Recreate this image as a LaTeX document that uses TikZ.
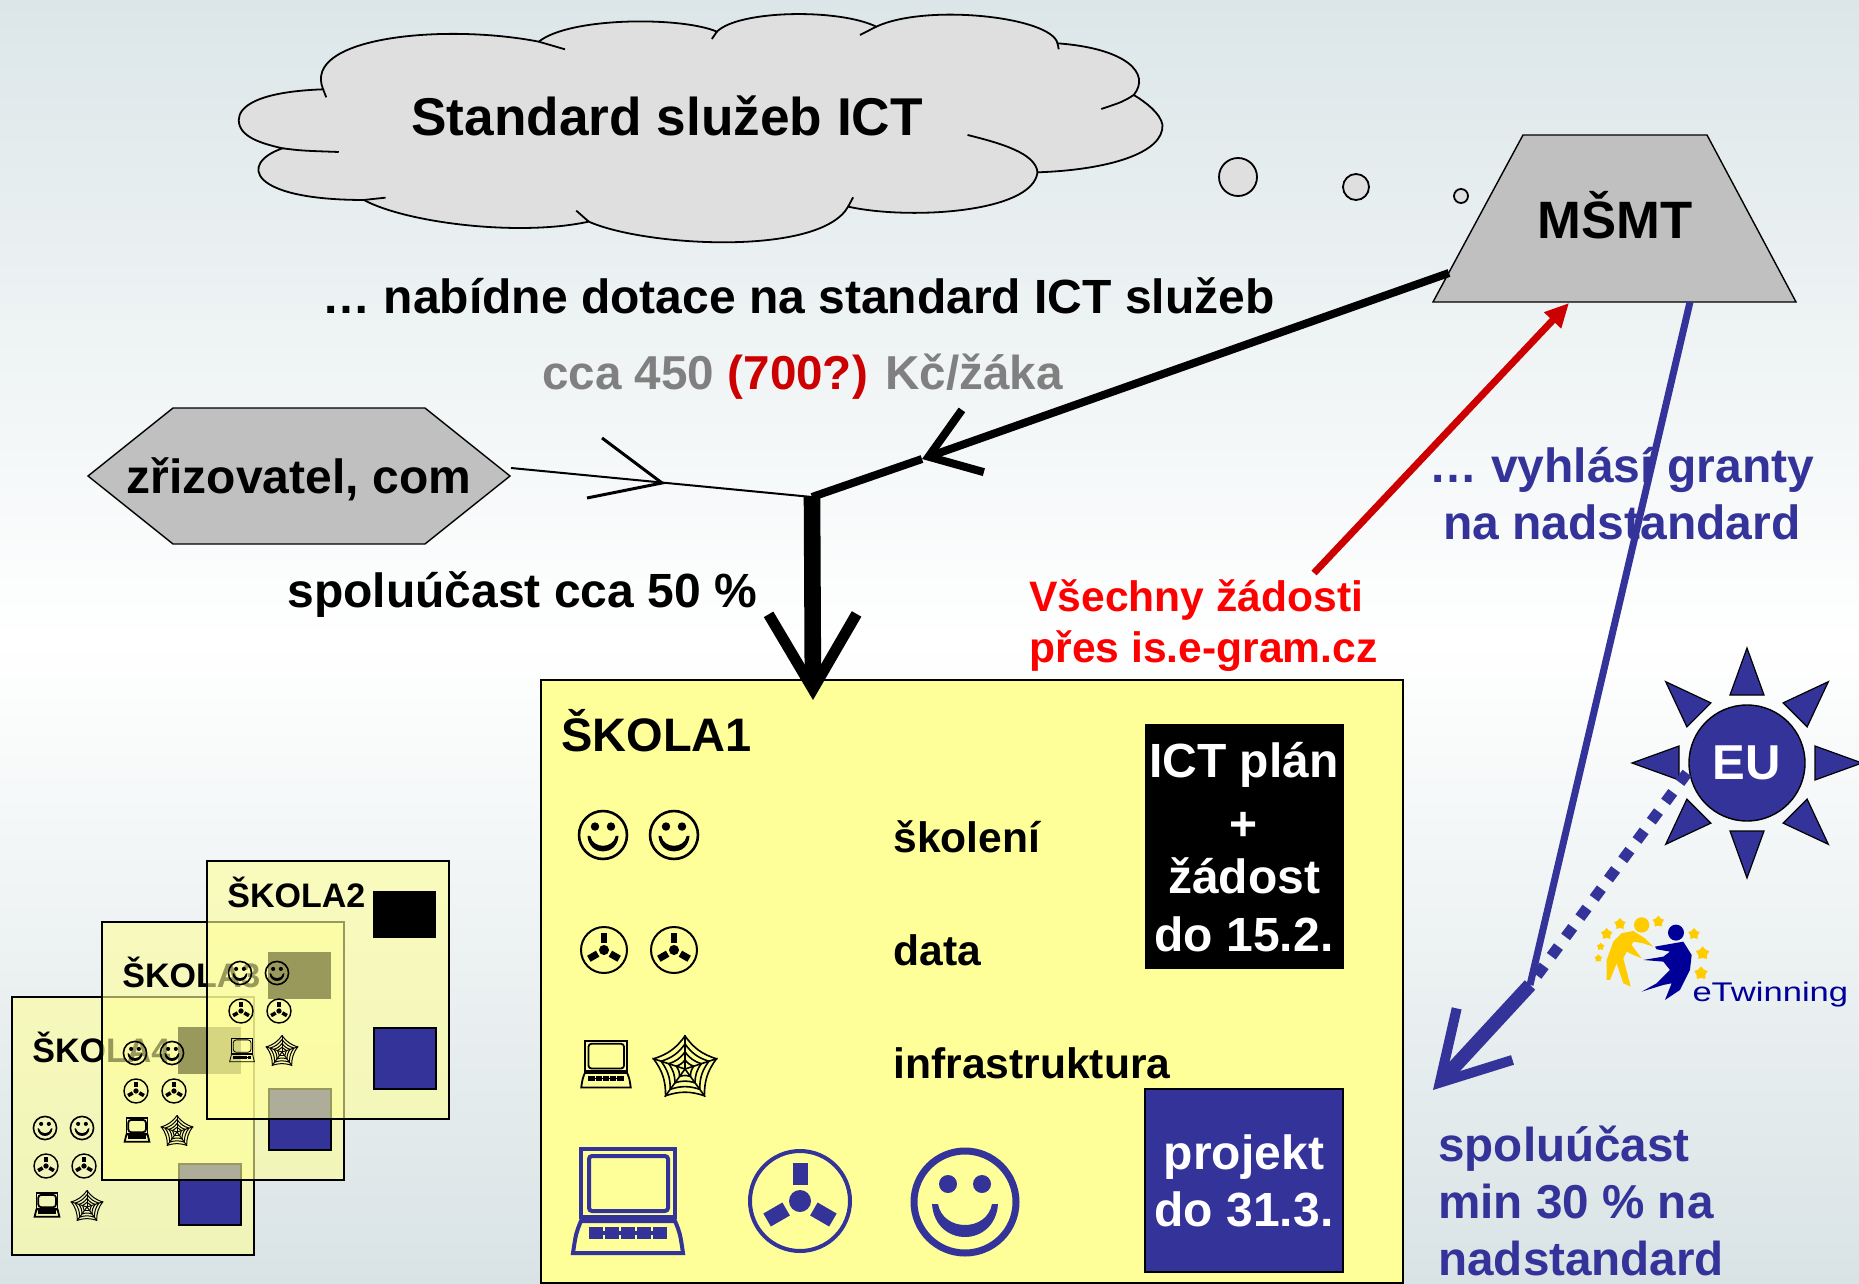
\documentclass[tikz,border=0pt]{standalone}
\usepackage{fontspec}
\setmainfont{Liberation Sans}
\usepackage{tikz}
\usetikzlibrary{positioning,calc,shapes.geometric,shapes.symbols,arrows.meta}

\definecolor{slideblue}{HTML}{333399}
\definecolor{slideyellow}{HTML}{FFFF99}
\definecolor{slidegray}{HTML}{C0C0C0}
\definecolor{cloudgray}{HTML}{DFDFDF}
\definecolor{darkred}{HTML}{CC0000}
\definecolor{twinblue}{HTML}{000099}
\definecolor{twinyellow}{HTML}{FFCC00}
\definecolor{bgtop}{HTML}{DCE6E8}
\definecolor{bgbottom}{HTML}{D9E3E5}

\tikzset{
    lbl/.style={anchor=base west,inner sep=0pt,font=\fontsize{24}{28}\selectfont\bfseries},
    lblsmall/.style={lbl,font=\fontsize{21.3}{25}\selectfont\bfseries},
    cardlbl/.style={lbl,font=\fontsize{17}{20}\selectfont\bfseries},
    whitebox/.style={draw=black,text=white,align=center,inner sep=0pt,minimum width=99pt,
        font=\fontsize{24}{29}\selectfont\bfseries},
    bubble/.style={draw=black,fill=cloudgray,line width=.9pt},
    sunray/.style={draw=black,fill=slideblue,line width=.6pt},
    blackarrow/.style={line width=4pt,-{Straight Barb[length=23.5pt,width=33pt,line width=4pt]}},
    mainarrow/.style={line width=8.3pt,-{Straight Barb[length=37.5pt,width=44pt,line width=5.5pt]}},
    bluearrow/.style={draw=slideblue,line width=7pt,-{Straight Barb[length=33pt,width=38pt,line width=5pt]}},
    smileyicon/.pic={
        \draw (0,0) circle (51);
        \fill (-17,-18) circle (9);
        \fill (17,-18) circle (9);
        \fill (-33,2) .. controls (-30,46) and (30,46) .. (33,2) -- (27,2)
            .. controls (22,30) and (-22,30) .. (-27,2) -- cycle;
    },
    radioicon/.pic={
        \draw (0,0) circle (50);
        \fill (0,0) circle (11);
        \foreach \a in {0,120,240}
            \fill[rotate=\a] (-7.5,-38) rectangle (7.5,-16);
    },
    compicon/.pic={
        \draw (-47,-52) rectangle (47,16);
        \draw[rounded corners=1.5pt] (-39,-45) rectangle (40,10);
        \draw (-47,20) -- (47,20) .. controls (52,32) .. (55,52) -- (-55,52)
            .. controls (-52,32) .. (-47,20) -- cycle;
        \draw (-39,32) -- (39,32);
        \foreach \n in {-32,-16,0,16,32}
            \draw (\n-5,28) rectangle (\n+5,36);
    },
    webicon/.pic={
        \foreach \n in {0,...,4} {
            \draw (0,0) -- ({-90+72*\n}:52);
            \foreach \rr in {14,26,38,50}
                \draw ({-90+72*\n}:\rr) to[bend right=18] ({-90+72*(\n+1)}:\rr);
        }
    }
}

\begin{document}
\begin{tikzpicture}[x=.5pt,y=-.5pt]
    \useasboundingbox (0,0) rectangle (1859,1284);
    \shade[top color=bgtop,bottom color=bgbottom,middle color=white] (0,0) rectangle (1859,1284);

    % cloud
    \begin{scope}[shift={(220,0)},xscale=.625,yscale=.3333]
        \draw[fill=cloudgray,line width=.9pt] (165,268)
            .. controls (60,275) and (30,320) .. (30,360)
            .. controls (30,410) and (65,430) .. (100,445)
            .. controls (30,490) and (45,600) .. (230,600)
            .. controls (300,670) and (480,710) .. (590,665)
            .. controls (680,740) and (960,770) .. (1005,620)
            .. controls (1100,660) and (1300,640) .. (1308,517)
            .. controls (1420,510) and (1510,460) .. (1508,375)
            .. controls (1505,340) and (1480,305) .. (1462,285)
            .. controls (1490,220) and (1450,145) .. (1340,130)
            .. controls (1330,50) and (1130,10) .. (1050,80)
            .. controls (990,25) and (830,30) .. (795,95)
            .. controls (740,50) and (560,50) .. (510,125)
            .. controls (360,70) and (130,110) .. (165,268) -- cycle;
        \draw[line width=.9pt] (165,268) -- (170,292);
        \draw[line width=.9pt] (100,445) .. controls (130,452) .. (190,456);
        \draw[line width=.9pt] (230,600) -- (265,593);
        \draw[line width=.9pt] (590,665) -- (570,632);
        \draw[line width=.9pt] (1005,620) -- (1013,592);
        \draw[line width=.9pt] (1308,517) .. controls (1305,460) and (1250,430) .. (1196,405);
        \draw[line width=.9pt] (1462,285) .. controls (1445,305) .. (1410,327);
        \draw[line width=.9pt] (1340,130) -- (1342,148);
        \draw[line width=.9pt] (1050,80) -- (1024,105);
        \draw[line width=.9pt] (795,95) -- (787,117);
        \draw[line width=.9pt] (510,125) -- (552,148);
    \end{scope}
    \node[lbl,font=\fontsize{26.6}{30}\selectfont\bfseries] (standard) at (411,136) {Standard služeb ICT};
    \draw[bubble] (1238,177) circle (19);
    \draw[bubble] (1356,187) circle (13);
    \draw[bubble] (1461,196) circle (7);

    % texts
    \node[lbl] (dotace) at (322,313) {… nabídne dotace na standard ICT služeb};
    \node[lbl,text=black!50,font=\fontsize{23.8}{28}\selectfont\bfseries] (castka) at (542,389) {cca 450 {\color{darkred}(700?)} Kč/žáka};
    \node[lbl] (spoluucast) at (287,607) {spoluúčast cca 50 \%};
    \node[lblsmall,text=red,align=left,font=\fontsize{21.3}{25.5}\selectfont\bfseries] (zadosti) at (1029,662)
        {Všechny žádosti\\přes is.e-gram.cz};
    \node[lbl,text=slideblue,align=center,font=\fontsize{24}{28.5}\selectfont\bfseries,anchor=base] (granty) at (1622,539)
        {… vyhlásí granty\\na nadstandard};
    \node[lbl,text=slideblue,align=left,font=\fontsize{23.8}{28.5}\selectfont\bfseries] (nadstandard) at (1438,1275)
        {spoluúčast\\min 30 \% na\\nadstandard};

    % zrizovatel, ministerstvo
    \node[signal,signal to=west and east,signal pointer angle=77.3,draw=black,fill=slidegray,
        line width=.7pt,minimum width=211pt,minimum height=68pt,inner sep=0pt] (zrizovatel) at (299,476) {};
    \node[inner sep=0pt,text depth=0pt,font=\fontsize{24}{28}\selectfont\bfseries] (zrizlbl) at (299,476) {zřizovatel, com};
    \draw[draw=black,fill=slidegray,line width=.7pt] (1523,135) -- (1707,135) -- (1796,302) -- (1433,302) -- cycle;
    \node[inner sep=0pt,font=\fontsize{26.3}{30}\selectfont\bfseries] (msmt) at (1615,215) {MŠMT};

    % mensi skoly
    \foreach \nm/\sx/\sy/\dy/\cw in {4/12/997/0/.9pt,3/102/922/0/.9pt,2/207/861/-19/.4pt} {
        \begin{scope}[shift={(\sx,\sy)}]
            \draw[fill=slideyellow,fill opacity=.6,line width=.9pt] (0,0) rectangle (242,258);
            \node[cardlbl] (card\nm) at (20,65+\dy) {ŠKOLA\nm};
            \fill (166,30) rectangle (229,77);
            \draw[fill=slideblue,line width=.7pt] (167,167) rectangle (229,228);
            \pic[scale=.227,line width=.8pt] at (33,131+\dy) {smileyicon};
            \pic[scale=.227,line width=.8pt] at (70,131+\dy) {smileyicon};
            \pic[scale=.24,line width=.7pt] at (34,169+\dy) {radioicon};
            \pic[scale=.24,line width=.7pt] at (72,169+\dy) {radioicon};
            \pic[scale=.225,line width=\cw] at (35,208+\dy) {compicon};
            \pic[scale=.33,line width=.5pt] at (75,210+\dy) {webicon};
        \end{scope}
    }

    % skola 1
    \node[draw=black,fill=slideyellow,line width=1pt,minimum width=431pt,minimum height=301.5pt] (skola) at (972,981.5) {};
    \node[lbl,font=\fontsize{23.5}{28}\selectfont\bfseries] (skolalbl) at (561,751) {ŠKOLA1};
    \node[lblsmall] (skoleni) at (893,852) {školení};
    \node[lblsmall] (data) at (893,965) {data};
    \node[lblsmall] (infra) at (893,1078) {infrastruktura};
    \node[whitebox,fill=black,minimum height=122pt] (plan) at (1244,846) {\rule{0pt}{18.5pt}ICT plán\\\raisebox{-2.5pt}{+}\\žádost\\do 15.2.};
    \node[whitebox,fill=slideblue,minimum height=91.5pt,line width=.8pt,
        font=\fontsize{24}{28.5}\selectfont\bfseries] (projekt) at (1244,1180.5) {projekt\\do 31.3.};

    \pic[scale=.47,line width=1.3pt] at (603,835) {smileyicon};
    \pic[scale=.47,line width=1.3pt] at (674,835) {smileyicon};
    \pic[scale=.46,line width=1pt] at (604,950) {radioicon};
    \pic[scale=.46,line width=1pt] at (674,950) {radioicon};
    \pic[scale=.45,line width=.9pt] at (606,1064) {compicon};
    \pic[scale=.66,line width=.8pt] at (685,1069) {webicon};
    \pic[color=slideblue,line width=2pt] at (628,1201) {compicon};
    \pic[color=slideblue,line width=2pt] at (800,1201) {radioicon};
    \pic[color=slideblue,line width=3.5pt] at (965,1202) {smileyicon};

    % EU
    \node[circle,draw=black,fill=slideblue,text=white,line width=.7pt,minimum size=58pt,inner sep=0pt,
        font=\fontsize{24.5}{28}\selectfont\bfseries] (eu) at (1747,763) {EU};
    \foreach \a in {0,45,...,315}
        \draw[sunray] ($(eu)+(\a:115)$) -- ($(eu)+(\a:68)+(\a+90:17)$) -- ($(eu)+(\a:68)+(\a-90:17)$) -- cycle;

    % eTwinning
    \begin{scope}[shift={(1400,630)},scale=.3333]
        \fill[twinyellow] (725,885) circle (23);
        \fill[twinyellow] (665,910) -- (700,903) -- (735,925) -- (760,950) -- (730,940) -- (700,935)
            -- (695,945) -- (725,985) -- (700,975) -- (680,965) -- (670,985) -- (692,1070)
            -- (670,1060) -- (650,1000) -- (630,1050) -- (620,1050) -- (620,990) -- (640,935) -- cycle;
        \fill[twinblue] (828,908) circle (24);
        \fill[twinblue] (765,950) -- (810,942) -- (850,935) -- (875,975) -- (870,1020) -- (840,1080)
            -- (795,1110) -- (815,1060) -- (790,1065) -- (725,1085) -- (770,1060) -- (810,1020)
            -- (790,995) -- (730,990) -- (790,980) -- (810,965) -- (770,958) -- cycle;
        \foreach \sx/\sy/\sz [count=\i] in {775/875/6,660/882/6,620/912/6,602/950/4,595/985/4,882/912/6,908/970/7,903/1030/7}
            \node[star,star points=5,fill=twinyellow,inner sep=0pt,minimum size=\sz pt] (star\i) at (\sx,\sy) {};
    \end{scope}
    \node[anchor=base west,inner sep=0pt,text=twinblue,xscale=1.28,font=\fontsize{13.5}{16}\selectfont] (etw) at (1692,1001) {eTwinning};

    % sipky
    \coordinate (junction) at (812,497);
    \coordinate (tipA) at (922,459);
    \coordinate (tipB) at (662,483);
    \coordinate (barbup) at (602,438);
    \coordinate (barbdown) at (587,498);
    \coordinate (tipC) at (813,700);
    \coordinate (zrizright) at (511,468);
    \coordinate (msmtleft) at (1449,273);
    \coordinate (msmtright) at (1690,302);
    \coordinate (msmtred) at (1569,303);
    \coordinate (redstart) at (1314,573);
    \coordinate (bluebend) at (1530,985);
    \coordinate (tipD) at (1433,1090);
    \coordinate (eustart) at (1687,773);

    \draw[blackarrow] (msmtleft) -- (tipA);
    \draw[line width=4pt] (tipA) -- (junction);
    \draw[line width=1pt] (zrizright) -- (junction);
    \draw[line width=1.5pt] (barbup) -- (tipB) -- (barbdown);
    \draw[mainarrow] (junction) -- (tipC);
    \draw[draw=darkred,fill=darkred,line width=3.5pt,-{Triangle[length=12pt,width=11pt]}] (redstart) -- (msmtred);
    \draw[slideblue,line width=3.5pt] (msmtright) -- (bluebend);
    \draw[bluearrow] (bluebend) -- (tipD);
    \draw[draw=slideblue,line width=5.5pt,dash pattern=on 6pt off 6pt] (eustart) -- (bluebend);
\end{tikzpicture}
\end{document}
